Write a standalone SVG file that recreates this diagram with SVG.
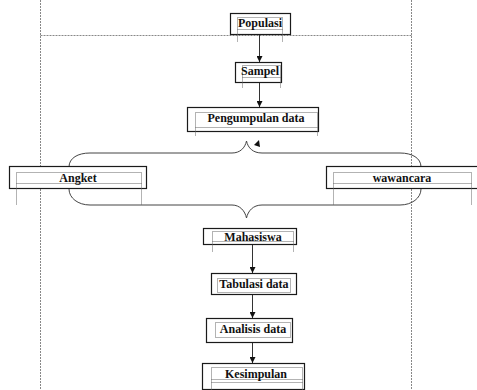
<svg xmlns="http://www.w3.org/2000/svg" width="477" height="390" viewBox="0 0 477 390">
<defs>
<style>
.box{fill:#fff;stroke:#1a1a1a;stroke-width:1.2}
.dot{fill:none;stroke:#666;stroke-width:1;stroke-dasharray:1 1}
.guide{fill:none;stroke:#888;stroke-width:1;stroke-dasharray:2 1}
.t{font-family:"Liberation Serif","Times New Roman",serif;font-weight:bold;font-size:12px;fill:#111;text-anchor:middle}
.conn{fill:none;stroke:#333;stroke-width:1}
.brace{fill:none;stroke:#444;stroke-width:1}
</style>
<marker id="ah" viewBox="0 0 8 8" refX="8" refY="4" markerWidth="6" markerHeight="6" orient="auto" markerUnits="userSpaceOnUse">
<path d="M0,0 L8,4 L0,8 Z" fill="#111"/>
</marker>
</defs>
<rect width="477" height="390" fill="#fff"/>
<g id="frame">
<line class="guide" x1="40.5" y1="0" x2="40.5" y2="390" stroke="#aaa"/>
<line class="guide" x1="411.5" y1="0" x2="411.5" y2="390" stroke="#aaa"/>
<line class="guide" x1="40.5" y1="35.5" x2="411.5" y2="35.5"/>
</g>
<g id="brace">
<path class="brace" d="M69,167 C69,158 78,153 90,153 L232,153 C240,153 245,148 246.5,141 C248,148 253,153 262,153 L400,153 C412,153 421,158 421,167"/>
<path class="brace" d="M69,189 C69,198 78,205 90,205 L232,205 C240,205 245,211 246.5,218 C248,211 253,205 262,205 L400,205 C412,205 421,198 421,189"/>
<path d="M254,145 L259,140 L260,147 Z" fill="#111"/>
</g>
<g id="connectors">
<line class="conn" x1="259.5" y1="35" x2="259.5" y2="62" marker-end="url(#ah)"/>
<line class="conn" x1="259.5" y1="82" x2="259.5" y2="107" marker-end="url(#ah)"/>
<line class="conn" x1="252.5" y1="245" x2="252.5" y2="273" marker-end="url(#ah)"/>
<line class="conn" x1="252.5" y1="294" x2="252.5" y2="318" marker-end="url(#ah)"/>
<line class="conn" x1="252.5" y1="342" x2="252.5" y2="363" marker-end="url(#ah)"/>
</g>
<g id="populasi">
<rect class="box" x="230.5" y="13.5" width="60" height="21"/>
<rect class="dot" x="237.5" y="17.5" width="45" height="12"/>
<path class="dot" d="M237.5,29.5 V42 M282.5,29.5 V42"/>
<text class="t" x="260" y="27">Populasi</text>
</g>
<g id="sampel">
<rect class="box" x="235.5" y="62.5" width="46" height="20"/>
<rect class="dot" x="242.5" y="65.5" width="38" height="12"/>
<path class="dot" d="M242.5,77.5 V88 M280.5,77.5 V88"/>
<text class="t" x="260" y="74.5">Sampel</text>
</g>
<g id="pengumpulan">
<rect class="box" x="187.5" y="107.5" width="131" height="24"/>
<rect class="dot" x="195.5" y="112.5" width="122" height="15"/>
<path class="dot" d="M195.5,127.5 V136 M317.5,127.5 V136"/>
<text class="t" x="256" y="122">Pengumpulan data</text>
</g>
<g id="angket">
<rect class="box" x="9.5" y="166.5" width="137" height="22"/>
<rect class="dot" x="16.5" y="172.5" width="125" height="11"/>
<path class="dot" d="M16.5,183.5 V205 M141.5,183.5 V205"/>
<text class="t" x="78" y="182">Angket</text>
</g>
<g id="wawancara">
<rect class="box" x="326.5" y="166.5" width="152" height="22"/>
<rect class="dot" x="333.5" y="172.5" width="138" height="11"/>
<path class="dot" d="M333.5,183.5 V205 M471.5,183.5 V205"/>
<text class="t" x="402" y="182">wawancara</text>
</g>
<g id="mahasiswa">
<rect class="box" x="203.5" y="228.5" width="93" height="16"/>
<rect class="dot" x="212.5" y="231.5" width="81" height="10"/>
<path class="dot" d="M212.5,241.5 V252 M293.5,241.5 V252"/>
<text class="t" x="253" y="240.5">Mahasiswa</text>
</g>
<g id="tabulasi">
<rect class="box" x="211.5" y="273.5" width="85" height="21"/>
<rect class="dot" x="217.5" y="278.5" width="73" height="14"/>
<text class="t" x="254" y="288">Tabulasi data</text>
</g>
<g id="analisis">
<rect class="box" x="206.5" y="318.5" width="86" height="24"/>
<rect class="dot" x="215.5" y="322.5" width="75" height="15"/>
<text class="t" x="253" y="333">Analisis data</text>
</g>
<g id="kesimpulan">
<rect class="box" x="202.5" y="363.5" width="102" height="26"/>
<rect class="dot" x="211.5" y="367.5" width="91" height="12"/>
<path class="dot" d="M211.5,382.5 H302.5 M211.5,379.5 V390 M302.5,379.5 V390"/>
<text class="t" x="256" y="377.5">Kesimpulan</text>
</g>
</svg>
